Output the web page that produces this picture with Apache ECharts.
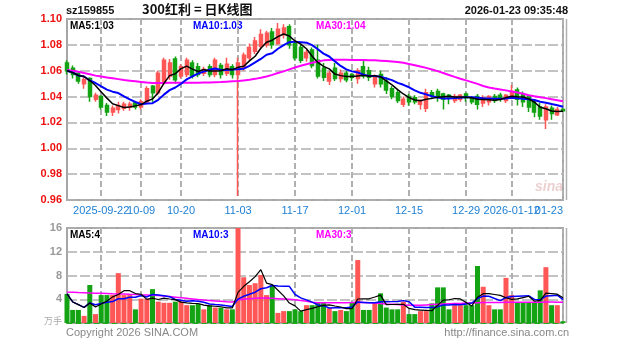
<!DOCTYPE html>
<html><head><meta charset="utf-8">
<script src="https://cdn.jsdelivr.net/npm/echarts@6/dist/echarts.min.js"></script>
<style>html,body{margin:0;padding:0;background:#fff}#c{width:627px;height:342px}</style>
</head><body><div id="c"></div>
<script>
const dates = ['2025-09-12','2025-09-15','2025-09-16','2025-09-17','2025-09-18','2025-09-19','2025-09-22','2025-09-23','2025-09-24','2025-09-25','2025-09-26','2025-09-29','2025-09-30',
'2025-10-09','2025-10-10','2025-10-13','2025-10-14','2025-10-15','2025-10-16','2025-10-17','2025-10-20','2025-10-21','2025-10-22','2025-10-23','2025-10-24','2025-10-27','2025-10-28','2025-10-29','2025-10-30','2025-10-31',
'2025-11-03','2025-11-04','2025-11-05','2025-11-06','2025-11-07','2025-11-10','2025-11-11','2025-11-12','2025-11-13','2025-11-14','2025-11-17','2025-11-18','2025-11-19','2025-11-20','2025-11-21','2025-11-24','2025-11-25','2025-11-26','2025-11-27','2025-11-28',
'2025-12-01','2025-12-02','2025-12-03','2025-12-04','2025-12-05','2025-12-08','2025-12-09','2025-12-10','2025-12-11','2025-12-12','2025-12-15','2025-12-16','2025-12-17','2025-12-18','2025-12-19','2025-12-22','2025-12-23','2025-12-24','2025-12-25','2025-12-26','2025-12-29','2025-12-30','2025-12-31',
'2026-01-05','2026-01-06','2026-01-07','2026-01-08','2026-01-09','2026-01-12','2026-01-13','2026-01-14','2026-01-15','2026-01-16','2026-01-19','2026-01-20','2026-01-21','2026-01-22','2026-01-23'];

const openP  = [1.066,1.062,1.058,1.050,1.054,1.038,1.040,1.033,1.028,1.030,1.031,1.032,1.035,1.032,1.036,1.048,1.043,1.051,1.056,1.069,1.056,1.057,1.066,1.063,1.058,1.063,1.057,1.064,1.058,1.063,
1.057,1.062,1.070,1.075,1.079,1.080,1.090,1.081,1.088,1.094,1.081,1.078,1.070,1.076,1.068,1.062,1.052,1.062,1.054,1.058,
1.057,1.054,1.063,1.060,1.050,1.057,1.052,1.046,1.043,1.034,1.040,1.039,1.034,1.031,1.043,1.044,1.042,1.041,1.037,1.038,1.042,1.039,1.040,
1.035,1.036,1.040,1.041,1.037,1.040,1.045,1.042,1.040,1.036,1.032,1.022,1.031,1.026,1.030];
const closeP = [1.060,1.057,1.052,1.053,1.040,1.041,1.032,1.028,1.031,1.033,1.034,1.034,1.032,1.036,1.046,1.043,1.058,1.068,1.066,1.053,1.063,1.068,1.056,1.057,1.061,1.057,1.068,1.057,1.065,1.057,
1.066,1.072,1.078,1.083,1.088,1.089,1.080,1.092,1.093,1.080,1.070,1.068,1.074,1.064,1.056,1.055,1.058,1.054,1.058,1.053,
1.055,1.060,1.056,1.055,1.055,1.050,1.045,1.040,1.037,1.038,1.036,1.036,1.037,1.043,1.041,1.040,1.038,1.039,1.040,1.041,1.039,1.036,1.034,
1.039,1.040,1.037,1.039,1.041,1.044,1.038,1.036,1.032,1.028,1.025,1.032,1.027,1.030,1.029];
const lowP   = [1.057,1.054,1.050,1.046,1.036,1.036,1.030,1.025,1.025,1.027,1.029,1.029,1.030,1.030,1.034,1.036,1.041,1.049,1.053,1.050,1.054,1.055,1.054,1.055,1.056,1.055,1.055,1.054,1.056,1.054,
0.963,1.060,1.068,1.073,1.077,1.078,1.077,1.080,1.085,1.077,1.068,1.066,1.067,1.062,1.054,1.052,1.049,1.052,1.051,1.051,
1.052,1.050,1.054,1.052,1.047,1.047,1.042,1.038,1.035,1.032,1.033,1.034,1.030,1.028,1.038,1.036,1.030,1.034,1.035,1.036,1.036,1.034,1.030,
1.032,1.033,1.035,1.036,1.035,1.038,1.033,1.032,1.028,1.024,1.022,1.015,1.022,1.025,1.028];
const highP  = [1.068,1.064,1.059,1.055,1.055,1.043,1.041,1.035,1.033,1.036,1.036,1.036,1.036,1.038,1.048,1.049,1.060,1.070,1.069,1.071,1.065,1.070,1.068,1.066,1.063,1.065,1.070,1.066,1.070,1.065,
1.070,1.074,1.081,1.086,1.092,1.091,1.093,1.097,1.096,1.096,1.083,1.080,1.076,1.078,1.080,1.066,1.060,1.066,1.061,1.060,
1.058,1.062,1.068,1.063,1.057,1.060,1.055,1.048,1.045,1.040,1.042,1.041,1.038,1.046,1.045,1.046,1.043,1.042,1.042,1.042,1.043,1.040,1.042,
1.041,1.041,1.042,1.043,1.042,1.049,1.047,1.044,1.041,1.038,1.035,1.034,1.033,1.032,1.031];

// volume (万手)
const volume = [4.9,2.2,2.2,1.2,6.4,1.5,4.7,4.7,4.7,8.4,4.7,4.7,2.3,4.1,4.1,5.7,3.6,3.4,3.4,3.6,3.6,3.0,3.0,3.2,2.3,3.0,2.6,2.6,2.3,2.3,
16.0,7.7,6.4,6.7,8.1,4.7,6.4,1.7,2.0,2.0,2.3,2.0,3.0,3.0,3.4,3.4,2.5,2.0,2.2,2.0,
3.4,10.6,2.2,2.2,3.5,5.0,2.6,2.3,2.3,3.6,1.5,1.5,2.0,2.0,3.3,6.0,6.0,2.3,3.0,3.0,3.0,3.0,9.6,
6.1,3.0,2.3,2.3,7.6,4.7,3.4,3.4,3.4,3.4,5.5,9.4,3.0,3.0,0.3];

// MA30 lines (their windows start before the visible range)
const ma30Price = [1.0606,1.0600,1.0592,1.0582,1.0572,1.0562,1.0555,1.0548,1.0542,1.0535,1.0528,1.0523,1.0518,1.0513,1.0508,1.0505,
1.0505,1.0505,1.0506,1.0506,1.0506,1.0507,1.0507,1.0507,1.0508,1.0508,1.0510,1.0512,1.0515,1.0518,
1.0520,1.0525,1.0530,1.0537,1.0545,1.0555,1.0568,1.0582,1.0595,1.0610,1.0625,1.0638,1.0650,1.0662,1.0672,1.0680,
1.0683,1.0684,1.0684,1.0684,1.0683,1.0683,1.0682,1.0681,1.0680,1.0678,1.0675,1.0672,
1.0667,1.0661,1.0652,1.0643,1.0632,1.0622,1.0610,1.0597,1.0582,1.0567,1.0552,1.0538,1.0525,1.0512,1.0498,1.0482,1.0470,1.0462,1.0455,1.0448,1.0440,1.0432,1.0422,1.0410,1.0402,1.0395,1.0388,1.0380,1.0372,1.0364];
const ma30Vol = [5.2,5.17,5.13,5.1,5.07,5.03,5.0,4.97,4.93,4.9,4.87,4.83,4.8,4.75,4.72,
4.68,4.62,4.55,4.45,4.35,4.25,4.15,4.05,3.95,3.87,3.8,3.72,3.65,3.58,3.52,
3.9,4.0,4.1,4.15,4.2,4.2,4.15,4.1,4.05,4.0,3.9,3.8,3.65,3.5,
3.4,3.4,3.4,3.4,3.4,3.4,3.45,3.5,3.45,3.4,3.35,3.3,3.2,3.15,3.1,3.05,3.0,
3.0,3.0,3.05,3.1,3.15,3.2,3.25,3.3,3.3,3.35,3.35,3.4,
3.45,3.45,3.45,3.45,3.5,3.5,3.5,3.5,3.5,3.5,3.5,3.55,3.55,3.5,3.5];

const tickDates = ['2025-09-22','2025-10-09','2025-10-20','2025-11-03','2025-11-17','2025-12-01','2025-12-15','2025-12-29','2026-01-12','2026-01-23'];
const tickLabels = ['2025-09-22','10-09','10-20','11-03','11-17','12-01','12-15','12-29','2026-01-12','01-23'];
const priceTicks = [0.96,0.98,1.00,1.02,1.04,1.06,1.08,1.10];
const volTicks = [0,4,8,12,16];

function ma(arr, n){ return arr.map((v,i)=>{ const s=Math.max(0,i-n+1); let t=0; for(let k=s;k<=i;k++) t+=arr[k]; return +(t/(i-s+1)).toFixed(4);}); }
const ma5P = ma(closeP,5), ma10P = ma(closeP,10);
const ma5V = ma(volume,5), ma10V = ma(volume,10);

const UP='#ff5656', DOWN='#13a313';
const kData = dates.map((d,i)=>[openP[i],closeP[i],lowP[i],highP[i]]);
const vData = volume.map((v,i)=>({value:v,itemStyle:{color: closeP[i]>=openP[i]?UP:DOWN}}));
const tickIdx = tickDates.map(d=>dates.indexOf(d));
const showTick = (i)=>tickIdx.indexOf(i)>=0;
// labels split over two axis layers so overlapping ones are both drawn
const layerB = [tickIdx[1], tickIdx[8]];
const showA = (i)=>showTick(i) && layerB.indexOf(i)<0;
const showB = (i)=>layerB.indexOf(i)>=0;
const fmt = (v,i)=>tickLabels[tickIdx.indexOf(i)]||'';
const GRID='#b0b0b0';
const FONT='"Liberation Sans", Arial, sans-serif';
const labelBase = {color:'#1c7fd4', fontSize:11, fontFamily:FONT, margin:5, showMinLabel:true, showMaxLabel:true, hideOverlap:false, formatter:fmt};

const chart = echarts.init(document.getElementById('c'), null, {renderer:'canvas'});
chart.setOption({
  animation:false,
  backgroundColor:'#fff',
  grid:[
    {left:67, top:19, width:496, height:181, show:true, borderColor:'#a6a6a6', borderWidth:2, backgroundColor:'transparent'},
    {left:67, top:228, width:496, height:95, show:true, borderColor:'#a6a6a6', borderWidth:2, backgroundColor:'transparent'}
  ],
  xAxis:[
    {type:'category', gridIndex:0, data:dates, boundaryGap:false, position:'bottom',
     axisLine:{show:false}, axisTick:{show:false},
     axisLabel:Object.assign({interval:(i)=>showA(i), alignMaxLabel:'right'}, labelBase),
     splitLine:{show:true, interval:(i)=>showTick(i), lineStyle:{color:GRID, type:[6,3], width:2}}},
    {type:'category', gridIndex:1, data:dates, boundaryGap:false,
     axisLine:{show:true, lineStyle:{color:'#22aa22', type:[5,4], width:1}}, axisTick:{show:false},
     axisLabel:{show:false},
     splitLine:{show:true, interval:(i)=>showTick(i), lineStyle:{color:GRID, type:[6,3], width:2}}},
    {type:'category', gridIndex:0, data:dates, boundaryGap:false, position:'bottom', offset:0,
     axisLine:{show:false}, axisTick:{show:false}, splitLine:{show:false},
     axisLabel:Object.assign({interval:(i)=>showB(i)}, labelBase)}
  ],
  yAxis:[
    {type:'value', gridIndex:0, min:priceTicks[0], max:priceTicks[priceTicks.length-1], interval:0.02, scale:true,
     axisLine:{show:false}, axisTick:{show:false},
     axisLabel:{color:'#ee1111', fontWeight:'bold', fontSize:11, fontFamily:FONT, margin:5, formatter:(v)=>v.toFixed(2)},
     splitLine:{show:true, lineStyle:{color:GRID, type:[10,3], width:1.5}}},
    {type:'value', gridIndex:1, min:volTicks[0], max:volTicks[volTicks.length-1], interval:4,
     axisLine:{show:false}, axisTick:{show:false},
     axisLabel:{color:'#999', fontWeight:'bold', fontSize:11, fontFamily:FONT, margin:5, formatter:(v)=>v===0?'':String(v)},
     splitLine:{show:true, lineStyle:{color:GRID, type:[10,3], width:1.5}}}
  ],
  series:[
    {type:'candlestick', xAxisIndex:0, yAxisIndex:0, data:kData, barWidth:3.5, clip:false,
     itemStyle:{color:UP, color0:DOWN, borderColor:UP, borderColor0:DOWN, borderWidth:1.5}},
    {type:'line', xAxisIndex:0, yAxisIndex:0, data:ma30Price, symbol:'none', lineStyle:{color:'#ff00ff', width:2}},
    {type:'line', xAxisIndex:0, yAxisIndex:0, data:ma10P, symbol:'none', lineStyle:{color:'#0000ff', width:2}},
    {type:'line', xAxisIndex:0, yAxisIndex:0, data:ma5P, symbol:'none', lineStyle:{color:'#000', width:1.5}},
    {type:'bar', xAxisIndex:1, yAxisIndex:1, data:vData, barWidth:5},
    {type:'line', xAxisIndex:1, yAxisIndex:1, data:ma30Vol, symbol:'none', lineStyle:{color:'#ff00ff', width:1.5}},
    {type:'line', xAxisIndex:1, yAxisIndex:1, data:ma10V, symbol:'none', lineStyle:{color:'#0000ff', width:1.5}},
    {type:'line', xAxisIndex:1, yAxisIndex:1, data:ma5V, symbol:'none', lineStyle:{color:'#000', width:1.2}}
  ],
  graphic:[
    {type:'line', shape:{x1:566.5, y1:19, x2:566.5, y2:200}, style:{stroke:'#b0b0b0', lineWidth:1.5}},
    {type:'line', shape:{x1:566.5, y1:228, x2:566.5, y2:323}, style:{stroke:'#b0b0b0', lineWidth:1.5}},
    {type:'text', left:66, top:5, style:{text:'sz159855', font:'bold 11px '+FONT, fill:'#111'}},
    {type:'text', left:142, top:3, style:{text:'300红利 = 日K线图', font:'bold 13px "Noto Sans CJK SC", sans-serif', fill:'#111'}},
    {type:'text', right:59, top:5, style:{text:'2026-01-23 09:35:48', font:'bold 11px '+FONT, fill:'#111'}},
    {type:'text', left:70, top:21, style:{text:'MA5:1.03', font:'bold 10px '+FONT, fill:'#000'}},
    {type:'text', left:193, top:21, style:{text:'MA10:1.03', font:'bold 10px '+FONT, fill:'#0000ff'}},
    {type:'text', left:316, top:21, style:{text:'MA30:1.04', font:'bold 10px '+FONT, fill:'#ff00ff'}},
    {type:'text', left:70, top:230, style:{text:'MA5:4', font:'bold 10px '+FONT, fill:'#000'}},
    {type:'text', left:193, top:230, style:{text:'MA10:3', font:'bold 10px '+FONT, fill:'#0000ff'}},
    {type:'text', left:316, top:230, style:{text:'MA30:3', font:'bold 10px '+FONT, fill:'#ff00ff'}},
    {type:'text', left:44, top:316, style:{text:'万手', font:'9px "Noto Sans CJK SC", sans-serif', fill:'#aaa'}},
    {type:'text', left:66, top:327, style:{text:'Copyright 2026 SINA.COM', font:'11px '+FONT, fill:'#888'}},
    {type:'text', right:58, top:327, style:{text:'http://finance.sina.com.cn', font:'11px '+FONT, fill:'#888'}},
    {type:'text', left:535, top:180, style:{text:'sina', font:'italic bold 14px '+FONT, fill:'rgba(200,120,120,0.35)'}}
  ]
});
</script></body></html>
